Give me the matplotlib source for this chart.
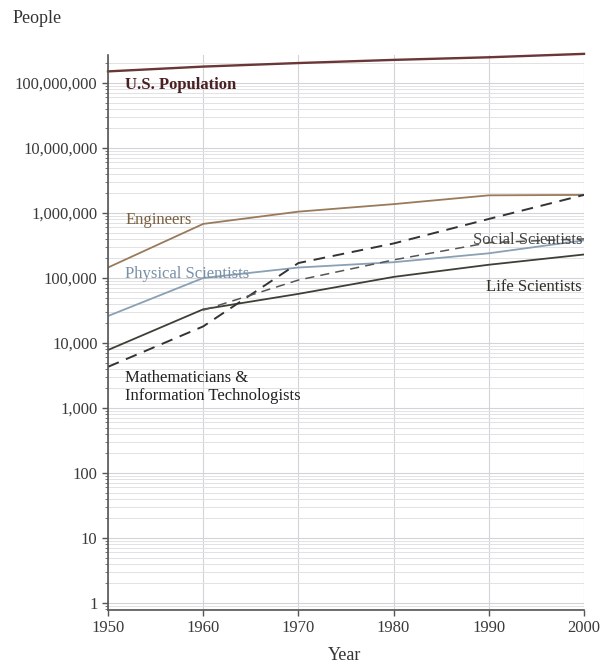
import matplotlib.pyplot as plt
from matplotlib.ticker import FixedLocator, LogLocator, FuncFormatter, NullFormatter

years = [1950, 1960, 1970, 1980, 1990, 2000]

us_population = [151e6, 179e6, 203e6, 227e6, 249e6, 281e6]
engineers = [1.45e5, 6.8e5, 1.05e6, 1.37e6, 1.87e6, 1.9e6]
physical = [2.6e4, 1.0e5, 1.45e5, 1.75e5, 2.4e5, 3.8e5]
life = [7.8e3, 3.3e4, 5.7e4, 1.04e5, 1.6e5, 2.3e5]
math_it = [4.3e3, 1.8e4, 1.7e5, 3.4e5, 8.1e5, 1.9e6]

social_years = [1960, 1970, 1980, 1990, 2000]
social = [3.2e4, 9.3e4, 1.9e5, 3.5e5, 4.0e5]

y_ticks = [1, 10, 100, 1000, 10000, 100000, 1000000, 10000000, 100000000]

plt.rcParams['font.family'] = ['Liberation Serif', 'DejaVu Serif']

fig = plt.figure(figsize=(6.05, 6.69), dpi=100)
ax = fig.add_axes([0.1785, 0.0882, 0.7868, 0.8296])

ax.set_yscale('log')
ax.set_xlim(1950, 2000)
ax.set_ylim(0.78, 2.7e8)

# grid: light horizontal lines for every minor step, vertical per decade
ax.yaxis.set_major_locator(FixedLocator(y_ticks))
ax.yaxis.set_minor_locator(LogLocator(base=10, subs=range(2, 10), numticks=20))
ax.yaxis.set_major_formatter(FuncFormatter(lambda v, p: f'{int(round(v)):,}'))
ax.yaxis.set_minor_formatter(NullFormatter())
ax.set_xticks(years)
ax.grid(which='major', axis='both', color='#d4d4d8', linewidth=0.8)
ax.grid(which='minor', axis='y', color='#e2e2e4', linewidth=0.7)
ax.set_axisbelow(True)

for s in ['top', 'right']:
    ax.spines[s].set_visible(False)
for s in ['left', 'bottom']:
    ax.spines[s].set_color('#555555')
    ax.spines[s].set_linewidth(1.2)

ax.tick_params(axis='both', which='major', labelsize=12, colors='#555555',
               labelcolor='#3a3a3a', length=4, width=1)
ax.tick_params(axis='y', which='minor', length=2, width=0.7, colors='#777777')

# series
ax.plot(years, us_population, color='#6b3636', lw=1.7, clip_on=False)
ax.plot(years, engineers, color='#9a7a5a', lw=1.3)
ax.plot(years, physical, color='#8aa0b4', lw=1.3)
ax.plot(years, life, color='#3f3f36', lw=1.3)
ax.plot(years, math_it, color='#333333', lw=1.4, dashes=(6, 4))
ax.plot(social_years, social, color='#555555', lw=1.1, dashes=(6, 4))

# series labels
ax.text(1951.8, 9.3e7, 'U.S. Population', color='#4a1f22', fontsize=12,
        fontweight='bold', va='center', ha='left')
ax.text(1951.8, 7.9e5, 'Engineers', color='#7a6040', fontsize=12,
        va='center', ha='left')
ax.text(1951.8, 1.15e5, 'Physical Scientists', color='#7890a6', fontsize=12,
        va='center', ha='left')
ax.text(1999.8, 3.8e5, 'Social Scientists', color='#444444', fontsize=12,
        va='center', ha='right')
ax.text(1999.8, 7.4e4, 'Life Scientists', color='#2f2f26', fontsize=12,
        va='center', ha='right')
ax.text(1951.8, 2.1e3, 'Mathematicians &\nInformation Technologists',
        color='#222222', fontsize=12, va='center', ha='left', linespacing=1.1)

fig.text(0.02, 0.972, 'People', fontsize=13, color='#333333', va='center')
fig.text(0.57, 0.02, 'Year', fontsize=13, color='#333333', va='center',
         ha='center')

fig.savefig('out.png', dpi=100, facecolor='white')
